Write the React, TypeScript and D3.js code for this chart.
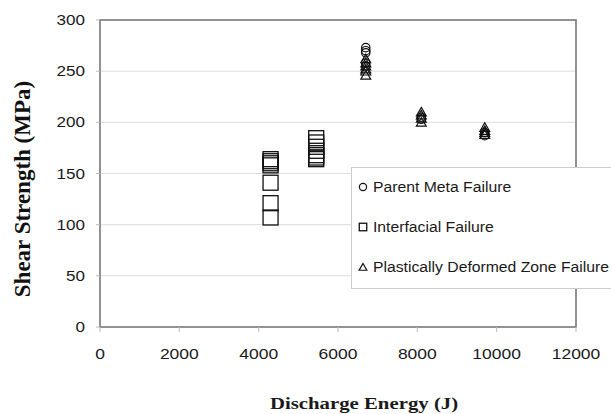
import React from 'react';
import * as d3 from 'd3';

// Discharge energy (J) vs shear strength (MPa)
const parentX = [6700, 6700, 6700, 6700, 6700, 8100, 8100, 9700, 9700];
const parentY = [273, 270, 268, 258, 255, 205, 203, 190, 187];

const interfacialX = [4300, 4300, 4300, 4300, 4300, 4300, 4300, 5450, 5450, 5450, 5450, 5450, 5450, 5450];
const interfacialY = [164, 162, 160, 158, 141, 121, 107, 184.5, 180.3, 176.1, 172.2, 167.9, 165.6, 164];

const plasticX = [6700, 6700, 6700, 6700, 6700, 6700, 8100, 8100, 8100, 8100, 9700, 9700, 9700, 9700];
const plasticY = [262, 258, 255, 252, 250, 246, 210, 207, 204, 200, 195, 192, 190, 188];

const xTicks = [0, 2000, 4000, 6000, 8000, 10000, 12000];
const yTicks = [0, 50, 100, 150, 200, 250, 300];
const legendLabels = ['Parent Meta Failure', 'Interfacial Failure', 'Plastically Deformed Zone Failure'];

const W = 611;
const H = 414;
const margin = { top: 20, right: 35, bottom: 87, left: 100 };

const sansFont = 'Liberation Sans, Arial, sans-serif';
const serifFont = 'Liberation Serif, Times New Roman, serif';

// the original figure's text is stretched sideways, so scale x a bit
function Label(props: { x: number; y: number; sx: number; anchor?: string; size: number; font: string; bold?: boolean; dy?: string; children: React.ReactNode }) {
  return (
    <text
      transform={`translate(${props.x},${props.y}) scale(${props.sx},1)`}
      dy={props.dy}
      textAnchor={props.anchor || 'start'}
      fontFamily={props.font}
      fontSize={props.size}
      fontWeight={props.bold ? 'bold' : 'normal'}
      fill="#1a1a1a"
    >
      {props.children}
    </text>
  );
}

export default function App() {
  const x = d3.scaleLinear().domain([0, 12000]).range([margin.left, W - margin.right]);
  const y = d3.scaleLinear().domain([0, 300]).range([H - margin.bottom, margin.top]);

  const tri = d3.symbol().type(d3.symbolTriangle).size(42)();
  const triSmall = d3.symbol().type(d3.symbolTriangle).size(26)();

  const circle = (cx: number, cy: number, r: number, k: string) => (
    <circle key={k} cx={cx} cy={cy} r={r} fill="none" stroke="#111" strokeWidth={1.2} />
  );
  const square = (cx: number, cy: number, s: number, k: string) => (
    <rect key={k} x={cx - s / 2} y={cy - s / 2} width={s} height={s} fill="none" stroke="#111" strokeWidth={1.3} />
  );
  const triangle = (cx: number, cy: number, d: string, k: string) => (
    <path key={k} d={d} transform={`translate(${cx},${cy + 1})`} fill="none" stroke="#111" strokeWidth={1.2} />
  );

  const [x0, x1] = x.range();
  const [y0, y1] = y.range();

  return (
    <svg width={W} height={H} style={{ position: 'absolute', left: 0, top: 0 }}>
      <rect width={W} height={H} fill="#fff" />
      {/* gridlines */}
      {yTicks.slice(1, -1).map(t => (
        <line key={t} x1={x0} x2={x1} y1={y(t)} y2={y(t)} stroke="#ddd" strokeWidth={1} />
      ))}
      {/* plot frame */}
      <rect x={x0} y={y1} width={x1 - x0} height={y0 - y1} fill="none" stroke="#777" strokeWidth={1.6} />
      {/* y ticks */}
      {yTicks.map(t => (
        <g key={t}>
          <line x1={x0 - 4} x2={x0} y1={y(t)} y2={y(t)} stroke="#bbb" />
          <Label x={x0 - 15} y={y(t)} dy="0.36em" anchor="end" sx={1.22} size={14} font={sansFont}>{t}</Label>
        </g>
      ))}
      {/* x ticks */}
      {xTicks.map(t => (
        <g key={t}>
          <line x1={x(t)} x2={x(t)} y1={y0} y2={y0 + 5} stroke="#bbb" />
          <Label x={x(t)} y={y0 + 32} anchor="middle" sx={1.25} size={14} font={sansFont}>{t}</Label>
        </g>
      ))}
      {/* axis titles */}
      <text transform="translate(30,189) rotate(-90)" textAnchor="middle" fontFamily={serifFont} fontWeight="bold" fontSize={23} fill="#111">
        Shear Strength (MPa)
      </text>
      <Label x={364} y={409} anchor="middle" sx={1.3} size={16} font={serifFont} bold>Discharge Energy (J)</Label>
      {/* data */}
      {interfacialX.map((v, i) => square(x(v), y(interfacialY[i]), 15, `s${i}`))}
      {parentX.map((v, i) => circle(x(v), y(parentY[i]), 4.2, `c${i}`))}
      {plasticX.map((v, i) => triangle(x(v), y(plasticY[i]), tri!, `t${i}`))}
      {/* legend */}
      <rect x={351.5} y={167.5} width={W} height={121} fill="#fff" stroke="#ccc" strokeWidth={1} />
      {legendLabels.map((lab, i) => {
        const ly = 187 + i * 40;
        return (
          <g key={lab}>
            {i === 0 && circle(363, ly, 3.6, 'lc')}
            {i === 1 && square(363, ly, 7.5, 'ls')}
            {i === 2 && triangle(363, ly, triSmall!, 'lt')}
            <Label x={373} y={ly} dy="0.36em" sx={1.05} size={15} font={sansFont}>{lab}</Label>
          </g>
        );
      })}
    </svg>
  );
}
